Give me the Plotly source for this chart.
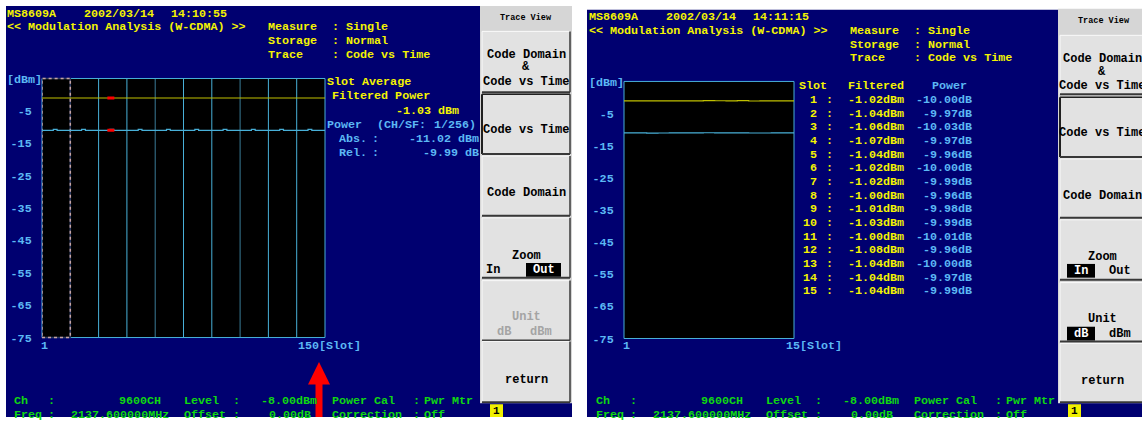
import plotly.graph_objects as go

W, H = 1142, 425

# ------------------------------------------------------------------ data
# Left screen: Code vs Time, 150 slots (10 frames x 15 slots), code power [dBm]
left_power_frames = [
    [-11.02, -11.02, -11.02, -11.02, -11.02, -11.02, -10.72, -10.72, -11.02, -11.02, -11.02, -11.02, -11.02, -11.02, -11.02],
    [-11.02, -11.02, -11.02, -11.02, -11.02, -11.02, -10.72, -10.72, -11.02, -11.02, -11.02, -11.02, -11.02, -11.02, -11.02],
    [-11.02, -11.02, -11.02, -11.02, -11.02, -11.02, -10.72, -10.72, -11.02, -11.02, -11.02, -11.02, -11.02, -11.02, -11.02],
    [-11.02, -11.02, -11.02, -11.02, -11.02, -11.02, -10.72, -10.72, -11.02, -11.02, -11.02, -11.02, -11.02, -11.02, -11.02],
    [-11.02, -11.02, -11.02, -11.02, -11.02, -11.02, -10.72, -10.72, -11.02, -11.02, -11.02, -11.02, -11.02, -11.02, -11.02],
    [-11.02, -11.02, -11.02, -11.02, -11.02, -11.02, -10.72, -10.72, -11.02, -11.02, -11.02, -11.02, -11.02, -11.02, -11.02],
    [-11.02, -11.02, -11.02, -11.02, -11.02, -11.02, -10.72, -10.72, -11.02, -11.02, -11.02, -11.02, -11.02, -11.02, -11.02],
    [-11.02, -11.02, -11.02, -11.02, -11.02, -11.02, -10.72, -10.72, -11.02, -11.02, -11.02, -11.02, -11.02, -11.02, -11.02],
    [-11.02, -11.02, -11.02, -11.02, -11.02, -11.02, -10.72, -10.72, -11.02, -11.02, -11.02, -11.02, -11.02, -11.02, -11.02],
    [-11.02, -11.02, -11.02, -11.02, -11.02, -11.02, -10.72, -10.72, -11.02, -11.02, -11.02, -11.02, -11.02, -11.02, -11.02],
]
left_filtered_avg = -1.03      # Slot Average Filtered Power [dBm]
left_marker_slot = 37
left_marker_abs = -11.02       # Abs. [dBm]
left_marker_rel = -9.99        # Rel. [dB]

# Right screen: Code vs Time zoomed in, 15 slots
right_slots = [1, 2, 3, 4, 5, 6, 7, 8, 9, 10, 11, 12, 13, 14, 15]
right_filtered = [-1.02, -1.04, -1.06, -1.07, -1.04, -1.02, -1.02, -1.00, -1.01, -1.03, -1.00, -1.08, -1.04, -1.04, -1.04]
right_rel_power = [-10.00, -9.97, -10.03, -9.97, -9.96, -10.00, -9.99, -9.96, -9.98, -9.99, -10.01, -9.96, -10.00, -9.97, -9.99]

ytick_vals = [-5, -15, -25, -35, -45, -55, -65, -75]
ytick_text = ["-5", "-15", "-25", "-35", "-45", "-55", "-65", "-75"]
y_range = [-75, 5]

left_header = ("MS8609A", "2002/03/14", "14:10:55")
right_header = ("MS8609A", "2002/03/14", "14:11:15")

# ------------------------------------------------------------------ style
BLUE = "#000070"
YEL = "#f4f400"
CYT = "#5cb8f4"
GRN = "#10d810"
LINE_Y = "#c0c000"
LINE_C = "#48b0d8"
GRID_C = "#48b0d8"
GRID_D = "#3a7c98"
PINK = "#c8a4a4"
PANEL = "#d6d6d6"
BTN = "#e2e2e2"
MONO = "Liberation Mono"
FS = 11.7


def X(px):
    return px / W


def Y(py):
    return 1 - py / H


shapes = []
annotations = []


def rect(x0, y0, x1, y1, fill, layer="below"):
    shapes.append(dict(type="rect", xref="paper", yref="paper", x0=X(x0), x1=X(x1),
                       y0=Y(y1), y1=Y(y0), fillcolor=fill, line=dict(width=0), layer=layer))


def seg(x0, y0, x1, y1, color, width=1, layer="below"):
    shapes.append(dict(type="line", xref="paper", yref="paper", x0=X(x0), x1=X(x1),
                       y0=Y(y0), y1=Y(y1), line=dict(color=color, width=width), layer=layer))


def T(x, y, s, color, anchor="left", size=FS, weight="bold", bg=None):
    annotations.append(dict(xref="paper", yref="paper", x=X(x), y=Y(y), text=s,
                            showarrow=False, xanchor=anchor, yanchor="middle",
                            font=dict(family=MONO, size=size, color=color, weight=weight),
                            bgcolor=bg, borderpad=0))


# ------------------------------------------------------------------ backgrounds
rect(6, 6, 480, 425, BLUE)        # left screen
rect(587, 10, 1058, 425, BLUE)    # right screen


def panel(px0, top, btns, trace_y, texts, cx):
    rect(px0, top, px0 + 92, 425, PANEL)
    T(px0 + 46, trace_y, "Trace View", "#000000", anchor="center", size=8.5)
    for i, (b0, b1) in enumerate(btns):
        x0, x1 = px0 + 2, px0 + 90
        rect(x0, b0, x1, b1, BTN)
        pressed = (i == 1)
        tl = "#202020" if pressed else "#fafafa"
        seg(x0, b0, x1, b0, tl, 1.5 if pressed else 1)
        seg(x0, b0, x0, b1, tl, 2 if pressed else 1)
        seg(x0, b1, x1, b1, "#383838", 2)
        seg(x1, b0, x1, b1, "#383838", 1.5)
    for (ty, s) in texts:
        T(cx, ty, s, "#000000", anchor="center", size=12)
    rect(px0, 411, px0 + 92, 425, BLUE)
    rect(px0 + 10, 412, px0 + 23, 425, "#f0f000")
    T(px0 + 16.5, 419, "1", "#000000", anchor="center", size=11)


# left panel
lb = [(32, 94), (96, 157), (159, 220), (222, 283), (286, 347), (348, 410)]
panel(480, 6, lb, 18, [(56, "Code Domain"), (68, "&"), (84, "Code vs Time"),
                       (133, "Code vs Time"), (197, "Code Domain"), (261, "Zoom"),
                       (387, "return")], 526)
T(485, 275, "In", "#000000", size=12)
rect(526, 268, 561, 282, "#000000", layer="above")
T(543.5, 275, "Out", "#ffffff", anchor="center", size=12)
T(526, 323, "Unit", "#a4a4a4", anchor="center", size=12)
T(504, 338, "dB", "#a4a4a4", anchor="center", size=12)
T(541, 338, "dBm", "#a4a4a4", anchor="center", size=12)

# right panel
rb = [(36, 96), (99, 160), (162, 222), (224, 285), (288, 348), (350, 410)]
panel(1058, 9, rb, 21, [(60, "Code Domain"), (73, "&"), (88, "Code vs Time"),
                        (136, "Code vs Time"), (200, "Code Domain"), (262, "Zoom"),
                        (388, "return")], 1102)
rect(1067, 269, 1095, 283, "#000000", layer="above")
T(1081, 276, "In", "#ffffff", anchor="center", size=12)
T(1120, 276, "Out", "#000000", anchor="center", size=12)
T(1102, 325, "Unit", "#000000", anchor="center", size=12)
rect(1067, 333, 1095, 347, "#000000", layer="above")
T(1081, 340, "dB", "#ffffff", anchor="center", size=12)
T(1120, 340, "dBm", "#000000", anchor="center", size=12)


# ------------------------------------------------------------------ screen texts
def screen_texts(dx, dy, header, dbm_y, xlab_y, last_label, last_x):
    T(6 + dx, 14 + dy, header[0], YEL)
    T(83 + dx, 14 + dy, header[1], YEL)
    T(170 + dx, 14 + dy, header[2], YEL)
    T(6 + dx, 28 + dy, "<< Modulation Analysis (W-CDMA) >>", YEL)
    for k, (a, b) in enumerate([("Measure", "Single"), ("Storage", "Normal"),
                                ("Trace", "Code vs Time")]):
        T(267 + dx, 28 + dy + 14 * k, a, YEL)
        T(331 + dx, 28 + dy + 14 * k, ": " + b, YEL)
    T(6 + dx, dbm_y, "[dBm]", CYT)
    T(44 + dx, xlab_y, "1", CYT, anchor="center")
    T(last_x, xlab_y, last_label, CYT)
    for yy, row in [(409, [("Ch", 13, "left"), (":", 51.5, "center"), ("9600CH", 162, "right"),
                           ("Level", 183, "left"), (":", 236, "center"), ("-8.00dBm", 260, "left"),
                           ("Power Cal", 331, "left"), (":", 416, "center"), ("Pwr Mtr", 423, "left")]),
                    (423, [("Freq", 13, "left"), (":", 51.5, "center"), ("2137.600000MHz", 70, "left"),
                           ("Offset", 183, "left"), (":", 236, "center"), ("0.00dB", 268, "left"),
                           ("Correction", 331, "left"), (":", 416, "center"), ("Off", 423, "left")])]:
        for s, xx, an in row:
            T(xx + dx, yy, s, GRN, anchor=an)


screen_texts(0, 0, left_header, 82, 353, "150[Slot]", 297)
screen_texts(582, 3.5, right_header, 85, 353, "15[Slot]", 785)

# left side readout
T(326, 84, "Slot Average", YEL)
T(331, 98, "Filtered Power", YEL)
T(395, 113, f"{left_filtered_avg:.2f} dBm", YEL)
T(326, 127, "Power", CYT)
T(376, 127, "(CH/SF:", CYT)
T(433, 127, "1/256)", CYT)
T(338, 142, "Abs.", CYT)
T(376, 142, ":", CYT, anchor="center")
T(408, 142, f"{left_marker_abs:.2f} dBm", CYT)
T(338, 156, "Rel.", CYT)
T(376, 156, ":", CYT, anchor="center")
T(422, 156, f"{left_marker_rel:.2f} dB", CYT)

# right table
T(798, 88, "Slot", YEL)
T(847, 88, "Filtered", YEL)
T(931, 88, "Power", CYT)
for i, (s, f, p) in enumerate(zip(right_slots, right_filtered, right_rel_power)):
    yy = 102 + i * 13.93
    T(818, yy, str(s), YEL, anchor="right")
    T(829, yy, ":", YEL, anchor="center")
    T(847, yy, f"{f:.2f}dBm", YEL)
    T(973, yy, f"{p:.2f}dB", CYT, anchor="right")

# red arrow under left plot
shapes.append(dict(type="path", xref="paper", yref="paper", layer="above",
                   path=f"M {X(319)},{Y(369)} L {X(330)},{Y(392)} L {X(308)},{Y(392)} Z",
                   fillcolor="#ff0000", line=dict(width=0)))
rect(315.5, 391, 322.5, 425, "#ff0000", layer="above")

# ------------------------------------------------------------------ plot areas
for xr, yr in [("x", "y"), ("x2", "y2")]:
    shapes.append(dict(type="rect", xref=f"{xr} domain", yref=f"{yr} domain", x0=0, x1=1, y0=0, y1=1,
                       fillcolor="#000000", line=dict(width=0), layer="below"))

frame_len = len(left_power_frames[0])
n_frames = len(left_power_frames)
for k in range(2, n_frames):
    xb = k * frame_len + 0.5
    shapes.append(dict(type="line", xref="x", yref="y domain", x0=xb, x1=xb, y0=0, y1=1,
                       line=dict(color=GRID_D if k in (4, 7) else GRID_C, width=1), layer="below"))
for xr, yr in [("x", "y"), ("x2", "y2")]:
    shapes.append(dict(type="rect", xref=f"{xr} domain", yref=f"{yr} domain", x0=0, x1=1, y0=0, y1=1,
                       line=dict(color=GRID_C, width=1), layer="below"))
# first frame outlined with a dashed line (over a dark base so it reads as dashed)
shapes.append(dict(type="rect", xref="x", yref="y domain", x0=0.5, x1=frame_len + 0.5, y0=0, y1=1,
                   line=dict(color="#2a3a60", width=1.5), layer="below"))
shapes.append(dict(type="rect", xref="x", yref="y domain", x0=0.5, x1=frame_len + 0.5, y0=0, y1=1,
                   line=dict(color=PINK, width=1.5, dash="3px,3px"), layer="below"))

fig = go.Figure()

left_slots = list(range(1, n_frames * frame_len + 1))
left_power = [v for fr in left_power_frames for v in fr]
lx = [s - 0.5 for s in left_slots] + [left_slots[-1] + 0.5]
fig.add_trace(go.Scatter(x=[lx[0], lx[-1]], y=[left_filtered_avg, left_filtered_avg], mode="lines",
                         line=dict(color=LINE_Y, width=1.2), xaxis="x", yaxis="y", hoverinfo="skip"))
fig.add_trace(go.Scatter(x=lx, y=left_power + [left_power[-1]], mode="lines",
                         line=dict(color=LINE_C, width=1.2, shape="hv"), xaxis="x", yaxis="y",
                         hoverinfo="skip"))
fig.add_trace(go.Scatter(x=[left_marker_slot, left_marker_slot],
                         y=[left_filtered_avg, left_marker_abs], mode="markers",
                         marker=dict(symbol="line-ew", size=5, line=dict(color="#ff0000", width=3)),
                         xaxis="x", yaxis="y", hoverinfo="skip"))

right_abs = [f + p for f, p in zip(right_filtered, right_rel_power)]
rx = [s - 0.5 for s in right_slots] + [right_slots[-1] + 0.5]
fig.add_trace(go.Scatter(x=rx, y=right_filtered + [right_filtered[-1]], mode="lines",
                         line=dict(color=LINE_Y, width=1.2, shape="hv"), xaxis="x2", yaxis="y2",
                         hoverinfo="skip"))
fig.add_trace(go.Scatter(x=rx, y=right_abs + [right_abs[-1]], mode="lines",
                         line=dict(color=LINE_C, width=1.2, shape="hv"), xaxis="x2", yaxis="y2",
                         hoverinfo="skip"))

xcommon = dict(showgrid=False, zeroline=False, showline=False, showticklabels=False, ticks="")
ycommon = dict(range=y_range, tickvals=ytick_vals, ticktext=ytick_text, showgrid=False, zeroline=False,
               showline=False, ticks="outside", ticklen=7, tickcolor="rgba(0,0,0,0)",
               tickfont=dict(family=MONO, size=FS, color=CYT, weight="bold"))

fig.update_layout(
    width=W, height=H, autosize=False,
    margin=dict(l=0, r=0, t=0, b=0),
    paper_bgcolor="#ffffff", plot_bgcolor="#000000",
    showlegend=False,
    xaxis=dict(domain=[X(42), X(325)], range=[lx[0], lx[-1]], anchor="y", **xcommon),
    yaxis=dict(domain=[Y(344), Y(80)], anchor="x", **ycommon),
    xaxis2=dict(domain=[X(624), X(794)], range=[rx[0], rx[-1]], anchor="y2", **xcommon),
    yaxis2=dict(domain=[Y(345), Y(83)], anchor="x2", **ycommon),
    shapes=shapes,
    annotations=annotations,
)

fig.write_html(
    "out.html",
    config={"displayModeBar": False, "staticPlot": True},
    post_script=("document.documentElement.style.overflow='hidden';"
                 "document.documentElement.style.height='425px';"
                 "document.body.style.margin='0';"
                 "document.body.style.overflow='hidden';"
                 "document.body.style.height='425px';"),
)
